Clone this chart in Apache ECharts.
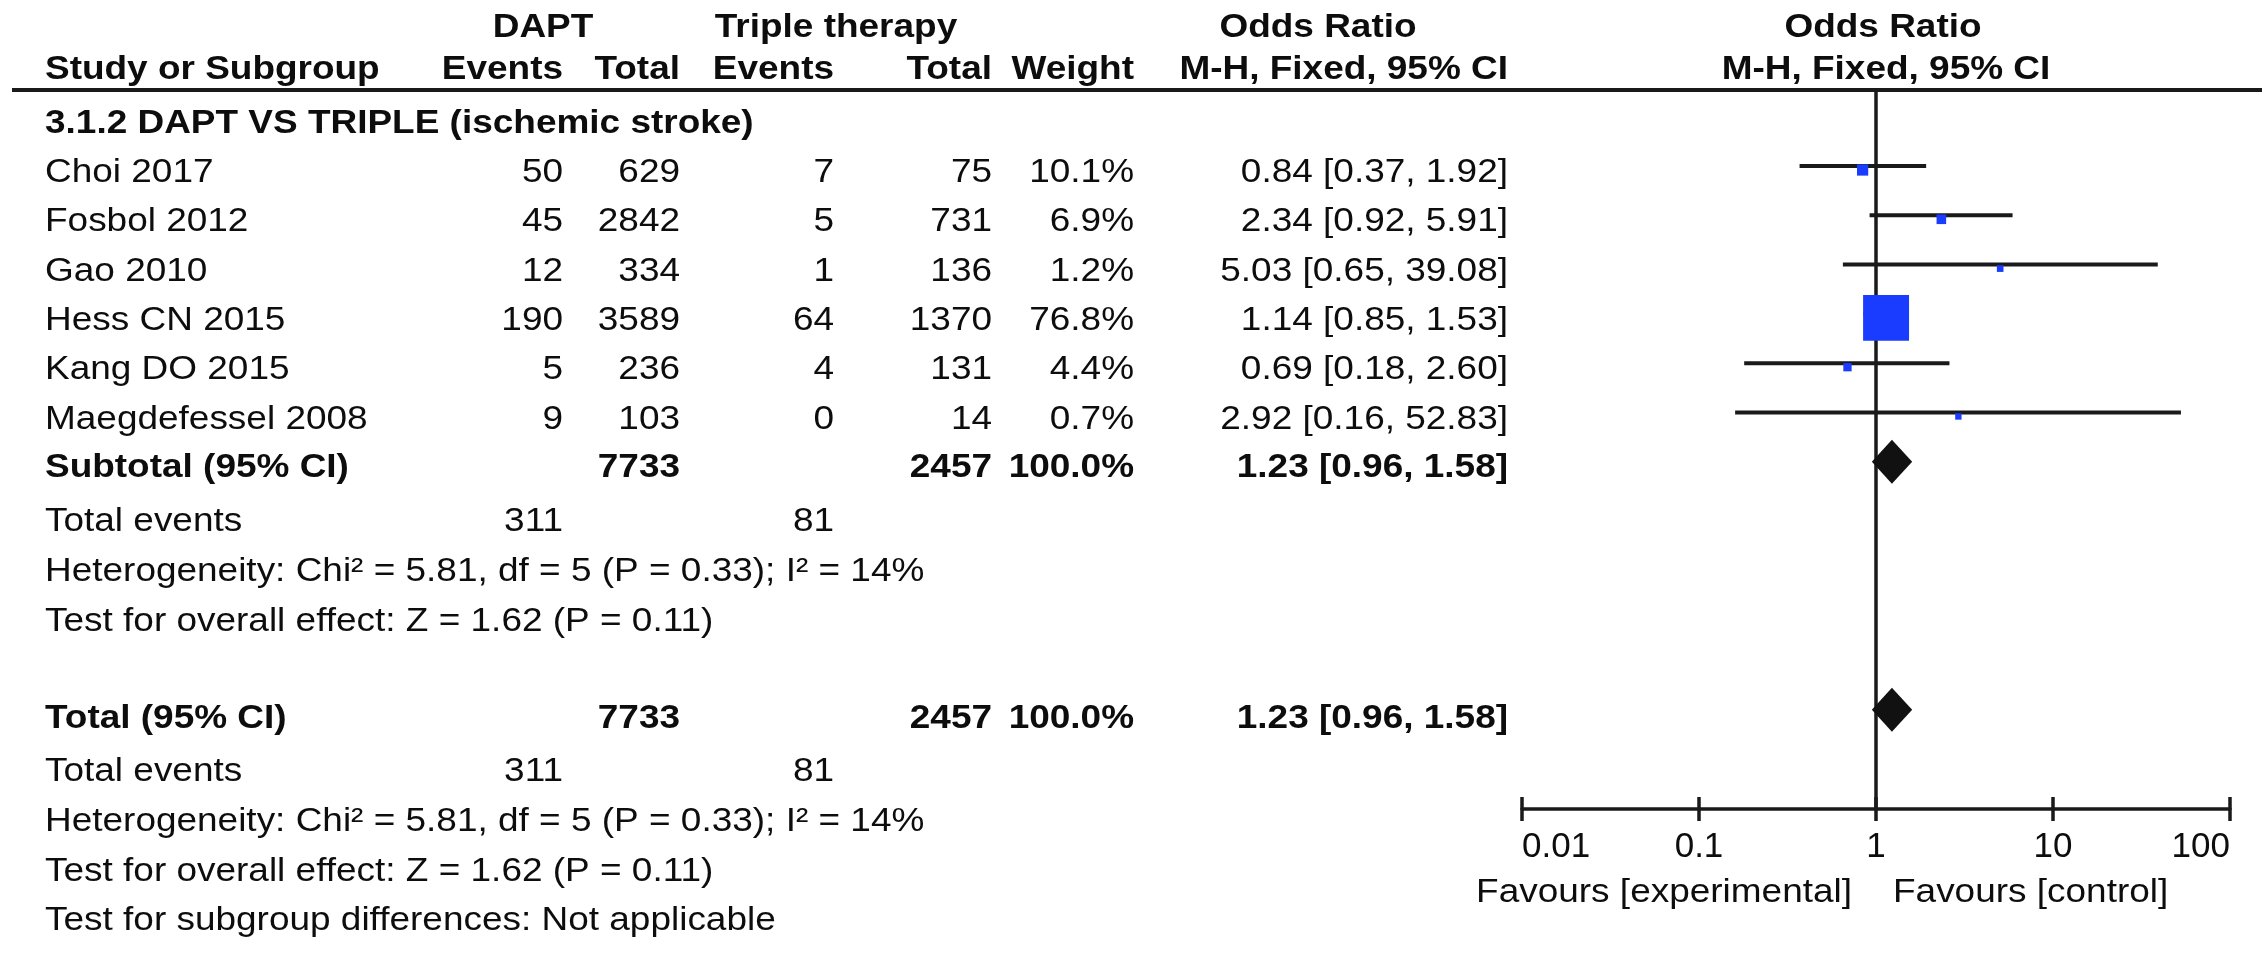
<!DOCTYPE html>
<html>
<head>
<meta charset="utf-8">
<script src="https://cdn.jsdelivr.net/npm/echarts@6/dist/echarts.min.js"></script>
<style>
html,body{margin:0;padding:0;background:#fff;}
#chart{width:2268px;height:954px;}
</style>
</head>
<body>
<div id="chart"></div>
<script>
// ---------------- data ----------------
const studies = ['Choi 2017', 'Fosbol 2012', 'Gao 2010', 'Hess CN 2015', 'Kang DO 2015', 'Maegdefessel 2008'];
const daptEvents = [50, 45, 12, 190, 5, 9];
const daptTotal = [629, 2842, 334, 3589, 236, 103];
const tripleEvents = [7, 5, 1, 64, 4, 0];
const tripleTotal = [75, 731, 136, 1370, 131, 14];
const weights = [10.1, 6.9, 1.2, 76.8, 4.4, 0.7];
const orEst = [0.84, 2.34, 5.03, 1.14, 0.69, 2.92];
const orLow = [0.37, 0.92, 0.65, 0.85, 0.18, 0.16];
const orHigh = [1.92, 5.91, 39.08, 1.53, 2.60, 52.83];
const pooledEst = [1.23, 1.23];
const pooledLow = [0.96, 0.96];
const pooledHigh = [1.58, 1.58];
const pooledWeight = ['100.0%', '100.0%'];
const tickLabels = ['0.01', '0.1', '1', '10', '100'];
const subgroupTitle = '3.1.2 DAPT VS TRIPLE (ischemic stroke)';
const hetText = 'Heterogeneity: Chi\u00B2 = 5.81, df = 5 (P = 0.33); I\u00B2 = 14%';
const overallText = 'Test for overall effect: Z = 1.62 (P = 0.11)';
const subgroupDiffText = 'Test for subgroup differences: Not applicable';
const favourLeft = 'Favours [experimental]';
const favourRight = 'Favours [control]';

// ---------------- layout ----------------
const FONT = '"Liberation Sans", Arial, Helvetica, sans-serif';
const FS = 33, SX = 1.12, INK = '#0d0d0d';
const col = {study: 45, de: 563, dt: 680, te: 834, tt: 992, w: 1134, or: 1508};
const rowStep = 49.3;
const ciRow0 = 166;                 // pixel of plot row 0
const textRow0 = 173;               // pixel of text row 0
const plotTop = 90, plotBottom = 809;
const totalPlotRow = 11.03;

const sum = a => a.reduce((s, v) => s + v, 0);
const fmtOR = (e, l, h) => e.toFixed(2) + ' [' + l.toFixed(2) + ', ' + h.toFixed(2) + ']';

const graphics = [];
function txt(s, x, y, align, bold, fs) {
  graphics.push({
    type: 'text', x: x, y: y, scaleX: SX, silent: true,
    style: {
      text: s, fill: INK, fontFamily: FONT, fontSize: fs || FS,
      fontWeight: bold ? 'bold' : 'normal',
      textAlign: align, align: align, textVerticalAlign: 'middle', verticalAlign: 'middle'
    }
  });
}

// header
txt('DAPT', 543, 28, 'center', true);
txt('Triple therapy', 836, 28, 'center', true);
txt('Odds Ratio', 1318, 28, 'center', true);
txt('Odds Ratio', 1883, 28, 'center', true);
txt('Study or Subgroup', col.study, 70, 'left', true);
txt('Events', col.de, 70, 'right', true);
txt('Total', col.dt, 70, 'right', true);
txt('Events', col.te, 70, 'right', true);
txt('Total', col.tt, 70, 'right', true);
txt('Weight', col.w, 70, 'right', true);
txt('M-H, Fixed, 95% CI', col.or, 70, 'right', true);
txt('M-H, Fixed, 95% CI', 1886, 70, 'center', true);
graphics.push({type: 'line', silent: true, shape: {x1: 12, y1: plotTop, x2: 2262, y2: plotTop},
  style: {stroke: '#1a1a1a', lineWidth: 4}});

txt(subgroupTitle, col.study, 124, 'left', true);

studies.forEach((s, i) => {
  const y = textRow0 + rowStep * i;
  txt(s, col.study, y, 'left', false);
  txt(String(daptEvents[i]), col.de, y, 'right', false);
  txt(String(daptTotal[i]), col.dt, y, 'right', false);
  txt(String(tripleEvents[i]), col.te, y, 'right', false);
  txt(String(tripleTotal[i]), col.tt, y, 'right', false);
  txt(weights[i].toFixed(1) + '%', col.w, y, 'right', false);
  txt(fmtOR(orEst[i], orLow[i], orHigh[i]), col.or, y, 'right', false);
});

function summaryBlock(label, k, yMain, yEv, yHet, yOv) {
  txt(label, col.study, yMain, 'left', true);
  txt(String(sum(daptTotal)), col.dt, yMain, 'right', true);
  txt(String(sum(tripleTotal)), col.tt, yMain, 'right', true);
  txt(pooledWeight[k], col.w, yMain, 'right', true);
  txt(fmtOR(pooledEst[k], pooledLow[k], pooledHigh[k]), col.or, yMain, 'right', true);
  txt('Total events', col.study, yEv, 'left', false);
  txt(String(sum(daptEvents)), col.de, yEv, 'right', false);
  txt(String(sum(tripleEvents)), col.te, yEv, 'right', false);
  txt(hetText, col.study, yHet, 'left', false);
  txt(overallText, col.study, yOv, 'left', false);
}
summaryBlock('Subtotal (95% CI)', 0, 468, 522, 572, 622);
summaryBlock('Total (95% CI)', 1, 719, 772, 822, 872);
txt(subgroupDiffText, col.study, 921, 'left', false);

txt(favourLeft, 1852, 893, 'right', false);
txt(favourRight, 1893, 893, 'left', false);

// ---------------- series data ----------------
const ciData = studies.map((s, i) => [orLow[i], orHigh[i], i]);
const sqData = studies.map((s, i) => ({value: [orEst[i], i], symbolSize: 6 + 0.52 * weights[i]}));
const diaData = [[pooledLow[0], pooledEst[0], pooledHigh[0], 6], [pooledLow[1], pooledEst[1], pooledHigh[1], totalPlotRow]];

const yMin = (plotTop - ciRow0) / rowStep;
const yMax = (plotBottom - ciRow0) / rowStep;

const axisBase = {
  type: 'log', logBase: 10, min: 0.01, max: 100, gridIndex: 0, position: 'bottom', offset: 0,
  splitLine: {show: false}, minorTick: {show: false}
};

const option = {
  backgroundColor: '#ffffff',
  animation: false,
  grid: {left: 1522, right: 2268 - 2230, top: plotTop, bottom: 954 - plotBottom, containLabel: false},
  xAxis: [
    Object.assign({}, axisBase, {
      axisLine: {show: true, onZero: false, lineStyle: {color: '#1a1a1a', width: 3.5}},
      axisTick: {show: true, inside: false, length: 12, lineStyle: {color: '#1a1a1a', width: 3.5}},
      axisLabel: {
        show: true, fontSize: 35, color: INK, fontFamily: FONT, margin: 21,
        alignMinLabel: 'left', alignMaxLabel: 'right',
        formatter: v => tickLabels[Math.round(Math.log10(v)) + 2]
      }
    }),
    Object.assign({}, axisBase, {
      axisLine: {show: false, onZero: false},
      axisTick: {show: true, inside: true, length: 12, lineStyle: {color: '#1a1a1a', width: 3.5}},
      axisLabel: {show: false}
    })
  ],
  yAxis: {type: 'value', min: yMin, max: yMax, inverse: true, show: false},
  graphic: graphics,
  series: [
    {
      type: 'custom', name: 'CI', xAxisIndex: 0, z: 2,
      data: ciData,
      renderItem: (params, api) => {
        const p1 = api.coord([api.value(0), api.value(2)]);
        const p2 = api.coord([api.value(1), api.value(2)]);
        return {type: 'line', shape: {x1: p1[0], y1: p1[1], x2: p2[0], y2: p2[1]},
          style: {stroke: '#1a1a1a', lineWidth: 4}};
      },
      markLine: {
        silent: true, symbol: 'none', z: 1,
        label: {show: false},
        lineStyle: {color: '#1a1a1a', width: 3.5, type: 'solid'},
        data: [{xAxis: 1}]
      }
    },
    {
      type: 'scatter', name: 'Study OR', xAxisIndex: 0, z: 3,
      symbol: 'rect', symbolOffset: [0, 4],
      itemStyle: {color: '#1a3cff', opacity: 1},
      data: sqData
    },
    {
      type: 'custom', name: 'Pooled', xAxisIndex: 0, z: 4,
      data: diaData,
      renderItem: (params, api) => {
        const row = api.value(3);
        const pl = api.coord([api.value(0), row]);
        const pe = api.coord([api.value(1), row]);
        const ph = api.coord([api.value(2), row]);
        const h = 22;
        return {type: 'polygon',
          shape: {points: [[pl[0] - 1, pl[1]], [pe[0], pe[1] - h], [ph[0] + 1, ph[1]], [pe[0], pe[1] + h]]},
          style: {fill: '#111111'}};
      }
    }
  ]
};

const chart = echarts.init(document.getElementById('chart'), null, {renderer: 'canvas'});
chart.setOption(option);
</script>
</body>
</html>
